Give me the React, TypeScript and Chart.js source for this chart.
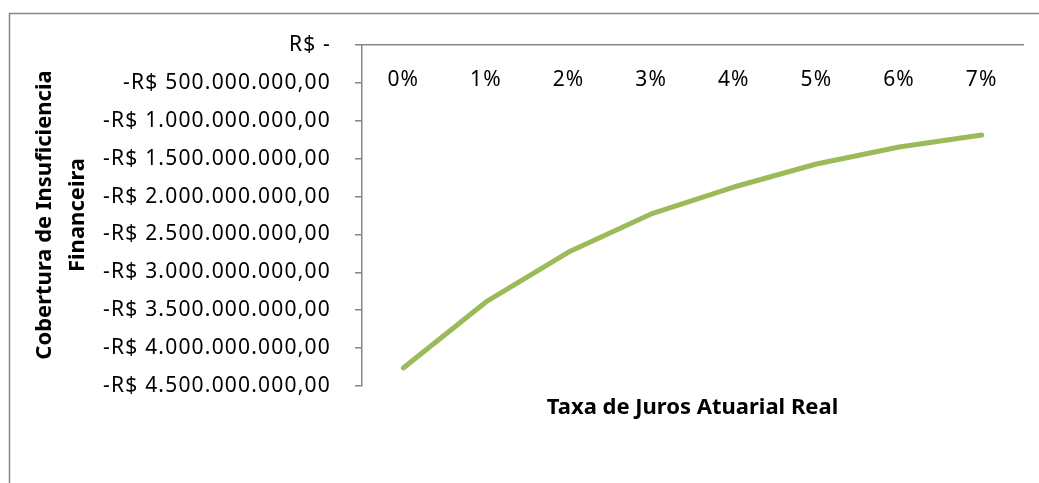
import React, { useEffect, useRef } from "react";
import { Chart, registerables } from "chart.js";

Chart.register(...registerables);

const categories = ["0%", "1%", "2%", "3%", "4%", "5%", "6%", "7%"];
const coberturaValues = [-4262000000, -3391000000, -2732000000, -2230000000, -1874000000, -1570000000, -1346000000, -1188000000];
const yMin = -4500000000;
const yMax = 0;
const yStep = 500000000;
const yTitleLines = ["Cobertura de Insuficiencia", "Financeira"];
const xTitle = "Taxa de Juros Atuarial Real";

const FONT = "'Noto Sans', sans-serif";
const AXIS_GRAY = "#868686";
const SPACING = "1.2px";

function formatBRL(v: number): string {
  if (v === 0) return "R$ -";
  const abs = Math.abs(v);
  const intPart = Math.round(abs).toString().replace(/\B(?=(\d{3})+(?!\d))/g, ".");
  return (v < 0 ? "-" : "") + "R$ " + intPart + ",00";
}

const spacingPlugin = {
  id: "spacing",
  beforeUpdate(chart: any) {
    chart.ctx.letterSpacing = SPACING;
  },
  beforeLayout(chart: any) {
    chart.ctx.letterSpacing = SPACING;
  },
  beforeDraw(chart: any) {
    chart.ctx.letterSpacing = SPACING;
  },
};

const decorPlugin = {
  id: "decor",
  afterDraw(chart: any) {
    const ctx = chart.ctx;
    ctx.save();
    ctx.letterSpacing = "0px";
    // outer border
    ctx.strokeStyle = AXIS_GRAY;
    ctx.lineWidth = 1.5;
    ctx.beginPath();
    ctx.moveTo(9.5, 600);
    ctx.lineTo(9.5, 13.5);
    ctx.lineTo(1100, 13.5);
    ctx.stroke();
    // titles
    ctx.fillStyle = "#000";
    ctx.font = "bold 22px " + FONT;
    ctx.textAlign = "center";
    ctx.textBaseline = "middle";
    const area = chart.chartArea;
    ctx.fillText(xTitle, (area.left + area.right) / 2, 408);
    const xs = [45, 78];
    yTitleLines.forEach((line, i) => {
      ctx.save();
      ctx.translate(xs[i], 215);
      ctx.rotate(-Math.PI / 2);
      ctx.fillText(line, 0, 0);
      ctx.restore();
    });
    ctx.restore();
  },
};

export default function App() {
  const ref = useRef<HTMLCanvasElement | null>(null);
  useEffect(() => {
    if (!ref.current) return;
    const chart = new Chart(ref.current, {
      type: "line",
      data: {
        labels: categories,
        datasets: [
          {
            data: coberturaValues,
            borderColor: "#9BBB59",
            borderWidth: 5,
            borderCapStyle: "round",
            borderJoinStyle: "round",
            pointRadius: 0,
            tension: 0,
            fill: false,
          },
        ],
      },
      options: {
        animation: false,
        responsive: false,
        maintainAspectRatio: false,
        layout: { padding: { left: 0, right: 16, top: 45, bottom: 97 } },
        plugins: { legend: { display: false }, tooltip: { enabled: false } },
        scales: {
          x: {
            position: { y: 0 } as any,
            offset: true,
            grid: { display: false, drawTicks: false, tickLength: 0 },
            border: { display: true, color: AXIS_GRAY, width: 1.5 },
            ticks: { color: "#000", font: { family: FONT, size: 21 }, padding: 22, maxRotation: 0 },
          },
          y: {
            position: "left",
            min: yMin,
            max: yMax,
            afterFit: (scale: any) => {
              scale.width = 362;
            },
            grid: { display: true, drawOnChartArea: false, drawTicks: true, tickLength: 7, color: AXIS_GRAY, lineWidth: 1.5 },
            border: { display: true, color: AXIS_GRAY, width: 1.5 },
            ticks: {
              stepSize: yStep,
              color: "#000",
              font: { family: FONT, size: 21 },
              padding: 24,
              callback: (v: any) => formatBRL(Number(v)),
            },
          },
        },
      },
      plugins: [spacingPlugin, decorPlugin],
    });
    return () => chart.destroy();
  }, []);
  return (
    <div style={{ position: "absolute", left: 0, top: 0, width: 1039, height: 483, background: "#fff" }}>
      <canvas ref={ref} width={1039} height={483} style={{ display: "block", width: 1039, height: 483 }} />
    </div>
  );
}
